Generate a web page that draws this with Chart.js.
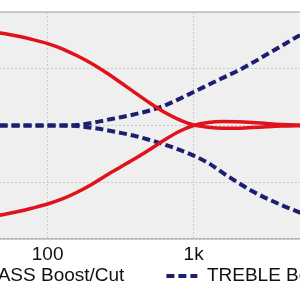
<!DOCTYPE html>
<html>
<head>
<meta charset="utf-8">
<script src="https://cdn.jsdelivr.net/npm/chart.js@4.4.1/dist/chart.umd.min.js"></script>
<style>
  html, body { margin: 0; padding: 0; background: #fff; width: 300px; height: 300px; overflow: hidden; }
  /* the plot is wider than the window: only the middle of it shows */
  #wrap { position: absolute; left: -149px; top: 0; width: 612px; height: 300px; }
</style>
</head>
<body>
<div id="wrap"><canvas id="toneChart"></canvas></div>
<script>
// ----------------------------------------------------
// Data (dB vs Hz)
// ----------------------------------------------------
const seriesLabels = ['BASS Boost/Cut', 'TREBLE Boost/Cut'];

const bassFreqs = [4, 20, 40, 50, 63, 79, 100, 126, 158, 200, 251, 316, 398, 501, 631, 794, 1000, 1259, 1585, 1995, 2512, 3162, 3981, 5012, 10000, 70000];
const bassBoost = [17.9, 17.3, 16.56, 16.21, 15.72, 15.14, 14.43, 13.52, 12.33, 10.93, 9.34, 7.58, 5.76, 3.96, 2.33, 1.04, 0.1, -0.32, -0.49, -0.48, -0.37, -0.23, -0.11, -0.04, 0, 0];
const bassCut   = [-17.6, -17.0, -16.1, -15.68, -15.15, -14.54, -13.83, -12.95, -11.81, -10.40, -8.81, -7.31, -5.81, -4.23, -2.56, -1.06, 0, 0.53, 0.69, 0.65, 0.53, 0.35, 0.19, 0.09, 0, 0];

const trebleFreqs = [4, 79, 100, 126, 158, 200, 251, 316, 398, 501, 631, 794, 1000, 1259, 1585, 1995, 2512, 3162, 3981, 5012, 6310, 7943, 10000, 15849, 31623, 70000];
const trebleBoost = [0, 0, 0, 0.02, 0.1, 0.45, 0.95, 1.45, 2.0, 2.65, 3.5, 4.65, 5.9, 7.15, 8.4, 9.6, 11.0, 12.5, 14.0, 15.5, 16.8, 17.9, 18.6, 19.5, 19.8, 19.9];
const trebleCut   = [0, 0, 0, -0.02, -0.1, -0.4, -0.8, -1.3, -1.85, -2.55, -3.35, -4.25, -5.3, -6.6, -8.35, -10.0, -11.55, -12.85, -14.0, -15.05, -15.95, -16.6, -17.1, -17.9, -18.5, -18.7];

const xTicks = [10, 100, 1000, 10000];
const xTickLabels = ['10', '100', '1k', '10k'];

// axis ranges
const X_MIN = 4.5;
const X_MAX = 70000;
const Y_MIN = -20;
const Y_MAX = 20;

// ----------------------------------------------------
// Style
// ----------------------------------------------------
const RED = '#e0121c';
const NAVY = '#1c1f70';
const FONT = "'Liberation Sans', Arial, sans-serif";
const FONT_SIZE = 19;
const LEGEND_GAP = 42;     // space between legend entries
const LEGEND_H = 38;       // height reserved for the legend row
const LEGEND_TEXT_Y = 276; // middle of legend text

Chart.defaults.font.family = FONT;
Chart.defaults.color = '#111';

function toPoints(xs, ys) {
    return xs.map((x, i) => ({ x: x, y: ys[i] }));
}

// grey plot background and the solid rule along the top
const plotFrame = {
    id: 'plotFrame',
    beforeDraw(chart) {
        const { ctx, chartArea: a } = chart;
        ctx.save();
        ctx.fillStyle = '#efefef';
        ctx.fillRect(a.left, a.top, a.right - a.left, a.bottom - a.top);
        ctx.restore();
    },
    beforeDatasetsDraw(chart) {
        const { ctx, chartArea: a } = chart;
        ctx.save();
        ctx.strokeStyle = '#bdbdbd';
        ctx.lineWidth = 1.5;
        ctx.beginPath();
        ctx.moveTo(a.left, a.top);
        ctx.lineTo(a.right, a.top);
        ctx.stroke();
        ctx.restore();
    }
};

// keep the legend row short even with wide horizontal padding
const legendPlacer = {
    id: 'legendPlacer',
    beforeLayout(chart) {
        const lg = chart.legend;
        if (lg && !lg._patched) {
            const fit = lg.fit;
            lg.fit = function () { fit.call(this); this.height = LEGEND_H; };
            lg._patched = true;
        }
    },
    afterLayout(chart) {
        const lg = chart.legend;
        if (!lg) return;
        // legend clips to its own box, so stretch the box down to the canvas edge
        lg.top = LEGEND_TEXT_Y - LEGEND_GAP - FONT_SIZE / 2;
        lg.bottom = chart.height;
        lg.height = lg.bottom - lg.top;
    }
};

// legend swatches as line samples, dashed like their dataset
function lineLabels(chart) {
    const base = Chart.defaults.plugins.legend.labels.generateLabels(chart);
    return base.map(item => {
        const ds = chart.data.datasets[item.datasetIndex];
        item.pointStyle = 'line';
        item.strokeStyle = ds.borderColor;
        item.lineWidth = ds.borderWidth;
        item.lineDash = ds.borderDash || [];
        return item;
    });
}

const common = {
    pointRadius: 0,
    pointHoverRadius: 0,
    pointStyle: 'line',
    fill: false,
    cubicInterpolationMode: 'monotone'
};

const ctx = document.getElementById('toneChart').getContext('2d');
new Chart(ctx, {
    type: 'line',
    data: {
        datasets: [
            { ...common, label: seriesLabels[0], data: toPoints(bassFreqs, bassBoost), borderColor: RED, borderWidth: 3.5 },
            { ...common, label: seriesLabels[0], data: toPoints(bassFreqs, bassCut), borderColor: RED, borderWidth: 3.5 },
            { ...common, label: seriesLabels[1], data: toPoints(trebleFreqs, trebleBoost), borderColor: NAVY, borderWidth: 4, borderDash: [8, 4] },
            { ...common, label: seriesLabels[1], data: toPoints(trebleFreqs, trebleCut), borderColor: NAVY, borderWidth: 4, borderDash: [8, 4] }
        ]
    },
    options: {
        responsive: true,
        maintainAspectRatio: false,
        animation: false,
        devicePixelRatio: 1,
        layout: { padding: { top: 12, left: 0, right: 0, bottom: 0 } },
        plugins: {
            tooltip: { enabled: false },
            legend: {
                position: 'bottom',
                labels: {
                    usePointStyle: true,
                    pointStyle: 'line',
                    pointStyleWidth: 31,
                    padding: LEGEND_GAP,
                    color: '#111',
                    font: { size: FONT_SIZE, family: FONT },
                    generateLabels: lineLabels,
                    filter: (item) => item.datasetIndex % 2 === 0
                }
            }
        },
        scales: {
            x: {
                type: 'logarithmic',
                min: X_MIN,
                max: X_MAX,
                afterBuildTicks: (scale) => { scale.ticks = xTicks.map(v => ({ value: v })); },
                afterFit: (scale) => { scale.height = 23; },
                ticks: {
                    padding: 4,
                    color: '#111',
                    font: { size: FONT_SIZE, family: FONT },
                    maxRotation: 0,
                    autoSkip: false,
                    callback: (v) => xTickLabels[xTicks.indexOf(v)]
                },
                grid: { color: '#c9c9c9', lineWidth: 1, drawTicks: false },
                border: { display: true, color: '#b5b5b5', width: 1.5, dash: [2, 2] }
            },
            y: {
                min: Y_MIN,
                max: Y_MAX,
                ticks: { display: false, stepSize: 10 },
                grid: { color: '#c9c9c9', lineWidth: 1, drawTicks: false },
                border: { display: false, dash: [2, 2] }
            }
        }
    },
    plugins: [plotFrame, legendPlacer]
});
</script>
</body>
</html>
